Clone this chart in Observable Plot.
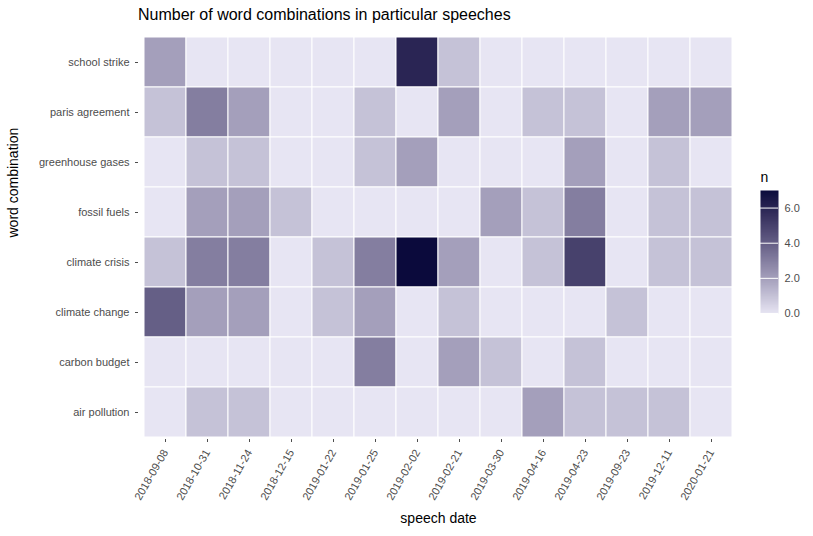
<!DOCTYPE html>
<html>
<head>
<script src="https://cdn.jsdelivr.net/npm/d3@7"></script>
<script src="https://cdn.jsdelivr.net/npm/@observablehq/plot@0.6"></script>
<style>
body { margin: 0; background: white; font-family: Arial, "Liberation Sans", sans-serif; }
#wrap { position: relative; width: 813px; height: 536px; }
#title { position: absolute; left: 138px; top: 6px; font-size: 16px; color: #000; }
#chart, #legend { position: absolute; left: 0; top: 0; }
#legend { left: 745px; top: 165px; }
</style>
</head>
<body>
<div id="wrap">
  <div id="chart"></div>
  <div id="legend"></div>
  <div id="title">Number of word combinations in particular speeches</div>
</div>
<script>
const dates = ["2018-09-08","2018-10-31","2018-11-24","2018-12-15","2019-01-22","2019-01-25","2019-02-02","2019-02-21","2019-03-30","2019-04-16","2019-04-23","2019-09-23","2019-12-11","2020-01-21"];
const combos = ["school strike","paris agreement","greenhouse gases","fossil fuels","climate crisis","climate change","carbon budget","air pollution"];
const counts = [
  [2,0,0,0,0,0,6,1,0,0,0,0,0,0],
  [1,3,2,0,0,1,0,2,0,1,1,0,2,2],
  [0,1,1,0,0,1,2,0,0,0,2,0,1,0],
  [0,2,2,1,0,0,0,0,2,1,3,0,1,1],
  [1,3,3,0,1,3,7,2,0,1,5,0,1,1],
  [4,2,2,0,1,2,0,1,0,0,0,1,0,0],
  [0,0,0,0,0,3,0,2,1,0,1,0,0,0],
  [0,1,1,0,0,0,0,0,0,2,1,1,1,0]
];
const colorRange = ["#e7e5f3", "#0b0a3c"];

const cells = combos.flatMap((c, i) => dates.map((d, j) => ({combo: c, date: d, n: counts[i][j]})));

const color = {type: "linear", domain: [0, 7], range: colorRange, interpolate: "lab"};

const chart = Plot.plot({
  width: 740, height: 536,
  marginLeft: 138, marginTop: 37, marginBottom: 99, marginRight: 2,
  style: {fontFamily: "Arial, 'Liberation Sans', sans-serif", fontSize: "11px", color: "#4d4d4d", background: "transparent"},
  x: {domain: dates, padding: 0, label: null, tickRotate: -60, tickSize: 3},
  y: {domain: combos, padding: 0, label: null, tickSize: 3},
  color,
  marks: [
    Plot.cell(cells, {x: "date", y: "combo", fill: "n", stroke: "white", strokeWidth: 1, inset: 0}),
    Plot.axisX({tickRotate: -60, tickSize: 3, label: null, fill: "#4d4d4d", fontSize: 11, textAnchor: "end", dy: 2}),
    Plot.axisY({tickSize: 3, label: null, fill: "#4d4d4d", fontSize: 11}),
    Plot.text(["speech date"], {frameAnchor: "bottom", dy: 85, fill: "black", fontSize: 14}),
    Plot.text(["word combination"], {frameAnchor: "left", dx: -125, rotate: -90, fill: "black", fontSize: 14})
  ]
});
document.getElementById("chart").append(chart);

const legend = Plot.plot({
  width: 60, height: 160,
  marginLeft: 15, marginRight: 27, marginTop: 25, marginBottom: 12,
  style: {fontFamily: "Arial, 'Liberation Sans', sans-serif", fontSize: "11px", color: "#4d4d4d", background: "transparent"},
  x: {domain: [0, 1], axis: null},
  y: {domain: [0, 7], ticks: [0, 2, 4, 6], axis: "right", tickSize: 0, label: null, tickPadding: 6},
  color,
  marks: [
    Plot.raster({x1: 0, x2: 1, y1: 0, y2: 7, width: 1, height: 100, fill: (x, y) => y, imageRendering: "auto"}),
    Plot.tickY([0, 2, 4, 6], {y: d => d, stroke: "white", strokeWidth: 1}),
    Plot.text(["n"], {frameAnchor: "top-left", dy: -18, fill: "black", fontSize: 14})
  ]
});
document.getElementById("legend").append(legend);
</script>
</body>
</html>
